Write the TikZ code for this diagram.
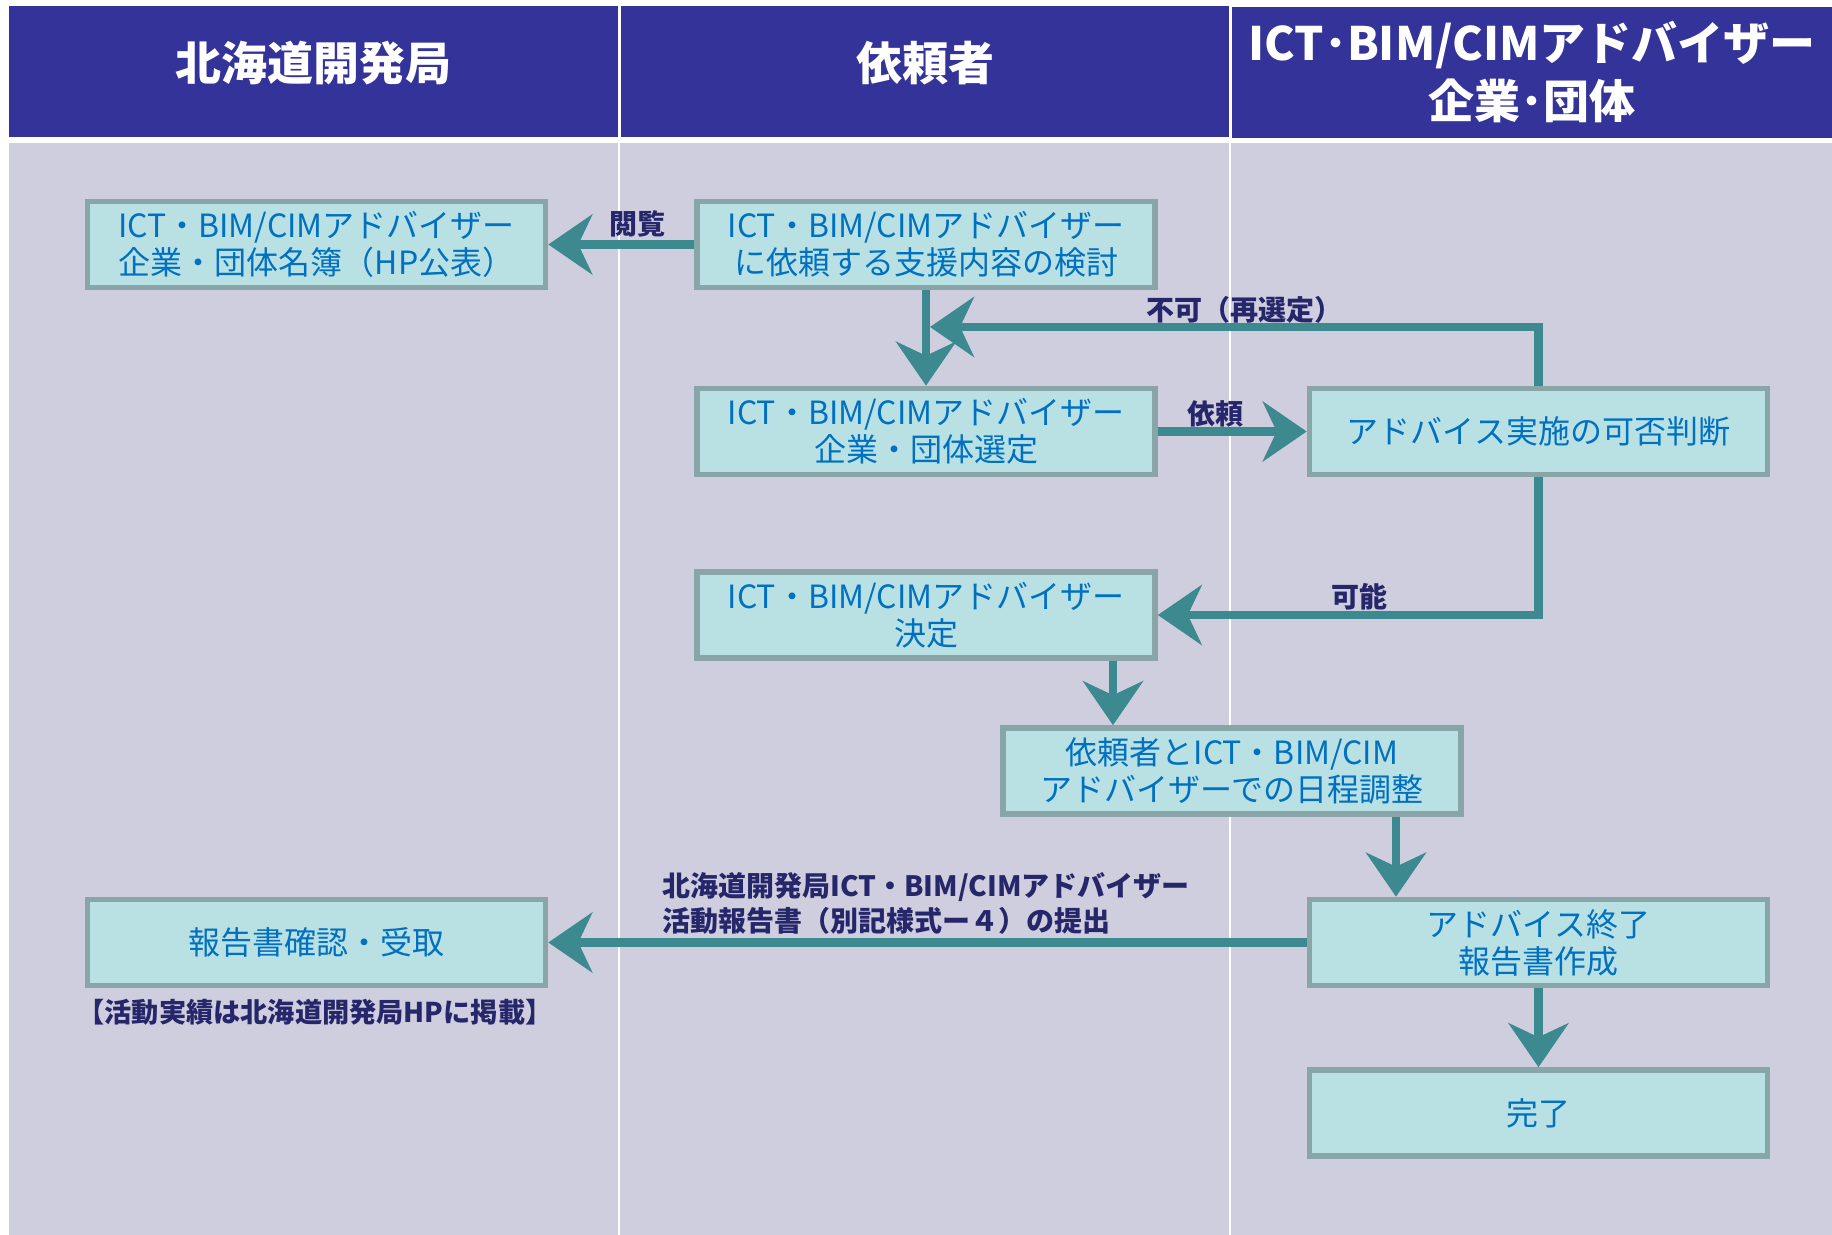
\documentclass[tikz,border=0pt]{standalone}
\usepackage{fontspec}
\setmainfont{Noto Sans CJK JP}
\usetikzlibrary{arrows.meta}
\definecolor{bandeau}{HTML}{333399}
\definecolor{fond}{HTML}{CFCEDE}
\definecolor{fondbox}{HTML}{B9E0E3}
\definecolor{bordbox}{HTML}{88A5A7}
\definecolor{textebox}{HTML}{0070C0}
\definecolor{fleche}{HTML}{3C8A8F}
\definecolor{etiq}{HTML}{26266B}
\begin{document}
\begin{tikzpicture}[x=0.5pt,y=-0.5pt]
	
		\tikzset{
		  titre/.style={
			fill=bandeau,
			text=white,
			font=\fontsize{23}{29}\selectfont\bfseries,
			align=center,
			minimum height=65.5pt,
			inner sep=0pt,
		  },
		  etape/.style={
			draw=bordbox,
			fill=fondbox,
			line width=2.8pt,
			minimum width=229pt,
			minimum height=43pt,
			inner sep=0pt,
			text=textebox,
			align=center,
			font=\fontsize{16}{18.5}\selectfont,
		  },
		  flux/.style={
			draw=fleche,
			line width=4.2pt,
			-{Stealth[length=22pt,width=30pt,inset=7pt]},
		  },
		  legende/.style={
			text=etiq,
			inner sep=0pt,
			font=\fontsize{14}{17.5}\selectfont\bfseries,
		  },
		}
		\useasboundingbox (0,0) rectangle (1832,1235);
		\fill[white] (0,0) rectangle (1832,1235);
		\fill[fond] (9,143) rectangle (1832,1235);
		\draw[white,line width=1pt] (619,143)--(619,1235);
		\draw[white,line width=1pt] (1230,143)--(1230,1235);
		% en-tetes
		\node[titre,minimum width=304.5pt] (titre1) at (313.5,71.5) {\raisebox{11pt}{北海道開発局}};
		\node[titre,minimum width=304pt] (titre2) at (925,71.5) {\raisebox{11pt}{依頼者}};
		\node[titre,minimum width=300pt] (titre3) at (1532,72.5) {ICT･BIM/CIMアドバイザー\\企業･団体};
		% etapes
		\node[etape] (meibo) at (316.5,244.5) {ICT・BIM/CIMアドバイザー\\企業・団体名簿（HP公表）};
		\node[etape] (kento) at (926,244.5) {ICT・BIM/CIMアドバイザー\\に依頼する支援内容の検討};
		\node[etape] (sentei) at (926,431.5) {ICT・BIM/CIMアドバイザー\\企業・団体選定};
		\node[etape] (kahi) at (1538.5,431.5) {アドバイス実施の可否判断};
		\node[etape] (kettei) at (926,615) {ICT・BIM/CIMアドバイザー\\決定};
		\node[etape] (nittei) at (1232,771) {依頼者とICT・BIM/CIM\\アドバイザーでの日程調整};
		\node[etape] (kakunin) at (316.5,942.5) {報告書確認・受取};
		\node[etape] (shuryo) at (1538.5,942.5) {アドバイス終了\\報告書作成};
		\node[etape] (kanryo) at (1538.5,1113) {完了};
		% fleches
		\coordinate (saisen) at (930,327);
		\coordinate (c1) at (1113,0);
		\coordinate (c2) at (1396,0);
		\draw[flux] (kento.west)--(meibo.east);
		\draw[flux] (kento.south)--(sentei.north);
		\draw[flux] (kahi.north)|-(saisen);
		\draw[flux] (sentei.east)--(kahi.west);
		\draw[flux] (kahi.south)|-(kettei.east);
		\draw[flux] (kettei.south -| c1)--(nittei.north -| c1);
		\draw[flux] (nittei.south -| c2)--(shuryo.north -| c2);
		\draw[flux] (shuryo.west)--(kakunin.east);
		\draw[flux] (shuryo.south)--(kanryo.north);
		% etiquettes
		\node[legende] (l-etsuran) at (637,224) {閲覧};
		\node[legende] (l-fuka) at (1244,310) {不可（再選定）};
		\node[legende] (l-irai) at (1215,414) {依頼};
		\node[legende] (l-kano) at (1359,597) {可能};
		\node[legende,anchor=west,align=left] (l-teishutsu) at (662,903) {北海道開発局ICT・BIM/CIMアドバイザー\\活動報告書（別記様式ー４）の提出};
		\node[legende,font=\fontsize{13.6}{16}\selectfont\bfseries] (l-keisai) at (315,1012) {【活動実績は北海道開発局HPに掲載】};
	
	\end{tikzpicture}
\end{document}
